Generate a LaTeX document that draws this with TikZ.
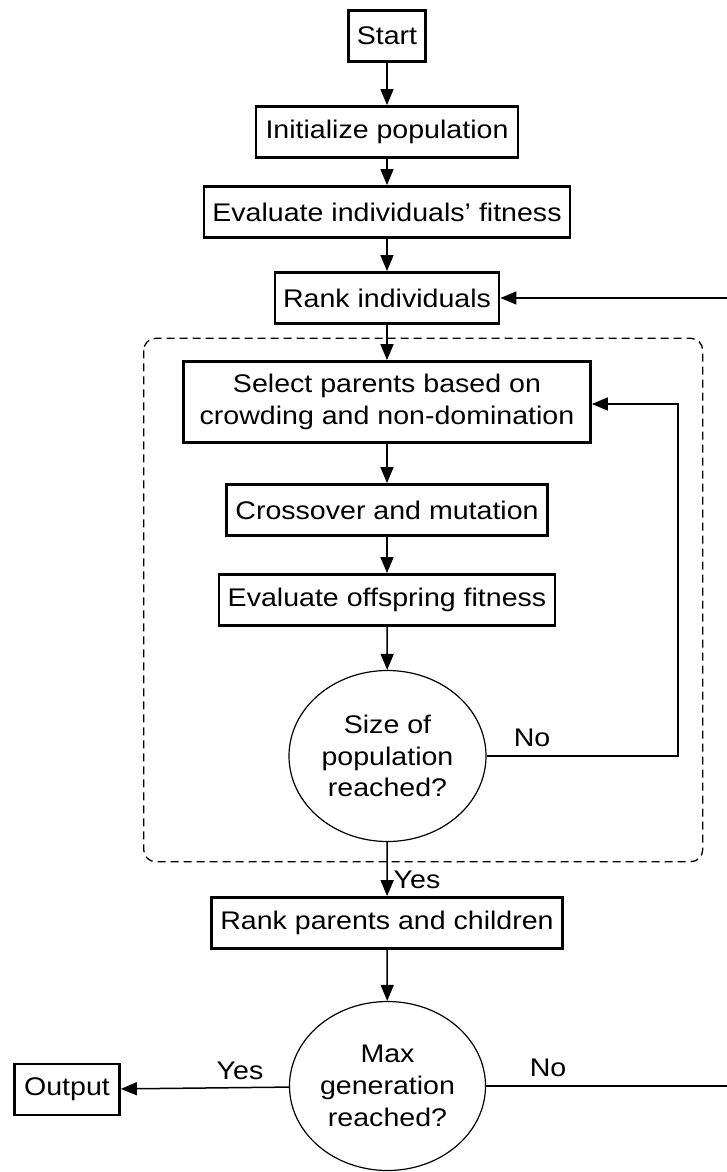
\documentclass[tikz,border=0pt]{standalone}
\usepackage{fontspec}
\setmainfont[FakeStretch=1.12]{Liberation Sans}
\usetikzlibrary{arrows.meta,shapes.geometric}
\begin{document}
\begin{tikzpicture}[x=1pt,y=-1pt,
  every node/.style={font=\fontsize{25.5}{31.7}\selectfont, inner sep=0pt},
  procbox/.style={draw, line width=2.8pt, minimum height=51pt, align=center},
  decision/.style={draw, ellipse, line width=1.2pt, align=center},
  flow/.style={line width=1.5pt, -{Triangle[length=16pt,width=13pt]}},
  lbl/.style={}]
\useasboundingbox (0,0) rectangle (727,1172);
\node[procbox, minimum width=77pt] (start) at (387,36) {Start};
\node[procbox, minimum width=262pt] (init) at (387,132) {Initialize population};
\node[procbox, minimum width=366pt] (evalind) at (387,212) {Evaluate individuals’ fitness};
\node[procbox, minimum width=224pt] (rank) at (387,298) {Rank individuals};
\node[procbox, minimum width=407pt, minimum height=81pt] (select) at (387,402) {Select parents based on\\crowding and non-domination};
\node[procbox, minimum width=321pt] (cross) at (387,510) {Crossover and mutation};
\node[procbox, minimum width=336pt] (evaloff) at (387,600) {Evaluate offspring fitness};
\node[decision, minimum width=197pt, minimum height=171pt] (size) at (387.5,756) {Size of\\population\\reached?};
\node[procbox, minimum width=351pt] (rankpc) at (387,923) {Rank parents and children};
\node[decision, minimum width=196pt, minimum height=169pt] (max) at (387.5,1086) {Max\\generation\\reached?};
\node[procbox, minimum width=105pt] (output) at (67,1089.5) {Output};

\draw[dashed, line width=1.3pt, dash pattern=on 8pt off 5pt, rounded corners=12pt] (143.7,338.3) rectangle (702.7,861.7);

\draw[flow] (start) -- (init);
\draw[flow] (init) -- (evalind);
\draw[flow] (evalind) -- (rank);
\draw[flow] (rank) -- (select);
\draw[flow] (select) -- (cross);
\draw[flow] (cross) -- (evaloff);
\draw[flow] (evaloff) -- (size);
\draw[flow] (size) -- (rankpc);
\draw[flow] (rankpc) -- (max);
\draw[flow] (max) -- (output);

\coordinate (loopa) at (678,404);
\draw[flow] (size.east) -- (size.east -| loopa) -- (loopa) -- (loopa -| select.east);
\coordinate (loopb) at (760,298);
\draw[flow] (max.east) -- (max.east -| loopb) -- (loopb) -- (rank.east);

\node[lbl] (nosize) at (532,738) {No};
\node[lbl] (yessize) at (417,880) {Yes};
\node[lbl] (yesmax) at (240,1071) {Yes};
\node[lbl] (nomax) at (548,1068) {No};
\end{tikzpicture}
\end{document}
